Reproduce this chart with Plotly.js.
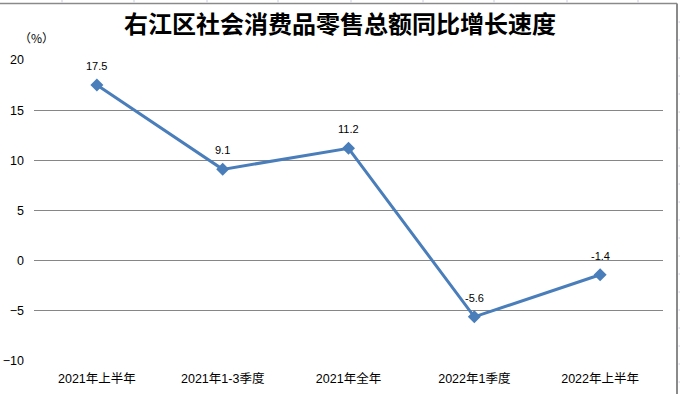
<!DOCTYPE html>
<html><head><meta charset="utf-8">
<script src="https://cdn.plot.ly/plotly-3.0.1.min.js"></script>
<style>html,body{margin:0;padding:0;background:#fff;}#chart{width:680px;height:394px;}</style>
</head><body><div id="chart"></div>
<script>
const categories = ["2021年上半年", "2021年1-3季度", "2021年全年", "2022年1季度", "2022年上半年"];
const growth = [17.5, 9.1, 11.2, -5.6, -1.4];
const labels = growth.map(v => v.toFixed(1));
const yTicks = [-10, -5, 0, 5, 10, 15, 20];
const titleText = "右江区社会消费品零售总额同比增长速度";
const unitText = "（%）";

const W = 680, H = 394, L = 34, R = 17, T = 60, B = 33;
const pw = W - L - R, ph = H - T - B;
const px = x => (x - L) / pw;
const py = y => (H - B - y) / ph;

const shapes = [];
shapes.push({type:'line', xref:'paper', yref:'paper', x0:px(0), x1:px(677), y0:py(3.5), y1:py(3.5), line:{color:'#8a8a8a', width:1.5}});
shapes.push({type:'line', xref:'paper', yref:'paper', x0:px(677), x1:px(677), y0:py(3.5), y1:py(394), line:{color:'#8a8a8a', width:2}});
[62,134,207,278,351,423,494,567,638].forEach(x => shapes.push({type:'line', xref:'paper', yref:'paper', x0:px(x), x1:px(x), y0:py(0), y1:py(2.5), line:{color:'#c8cde0', width:1}}));
[22,40,58,76,94,112,130,148,166,184,202,220,238,256,274,292,310,328,346,364,382].forEach(y => shapes.push({type:'line', xref:'paper', yref:'paper', x0:px(678.5), x1:px(680), y0:py(y), y1:py(y), line:{color:'#c8cde0', width:1}}));

const trace = {
  x: categories, y: growth, type: 'scatter', mode: 'lines+markers',
  line: {color: '#4a7ebb', width: 3},
  marker: {symbol: 'diamond', size: 10, color: '#4a7ebb'},
  cliponaxis: false, hoverinfo: 'none'
};

const valueLabels = categories.map((c, i) => ({
  x: c, y: growth[i], xref: 'x', yref: 'y', text: labels[i], showarrow: false,
  yshift: 19, xanchor: 'center', yanchor: 'middle',
  font: {family: 'Liberation Sans, Arial, sans-serif', size: 11, color: '#000'}
}));

const layout = {
  width: W, height: H,
  margin: {l: L, r: R, t: T, b: B, pad: 0},
  paper_bgcolor: '#fff', plot_bgcolor: '#fff',
  showlegend: false,
  font: {family: 'Liberation Sans, Arial, "Noto Sans CJK SC", sans-serif', size: 12, color: '#000'},
  title: {text: titleText, font: {family: '"Noto Sans CJK SC", sans-serif', size: 24, color: '#000', weight: 'bold'},
          x: 0.5, xref: 'container', xanchor: 'center', y: 1 - 25/H, yref: 'container', yanchor: 'middle'},
  xaxis: {type: 'category', range: [-0.5, categories.length - 0.5], showgrid: false, zeroline: false, showline: false, ticks: '',
          ticklabelstandoff: 8,
          tickfont: {family: 'Liberation Sans, "Noto Sans CJK SC", sans-serif', size: 12.5, color: '#000'}, fixedrange: true},
  yaxis: {range: [-10, 20], tickvals: yTicks, showgrid: true, gridcolor: '#868686', gridwidth: 1,
          zeroline: true, zerolinecolor: '#868686', zerolinewidth: 1, showline: false, ticks: '',
          ticklabelstandoff: 9,
          tickfont: {family: 'Liberation Sans, Arial, sans-serif', size: 12.5, color: '#000'}, fixedrange: true},
  annotations: [{text: unitText, xref: 'paper', yref: 'paper', x: px(36), y: py(38), xanchor: 'center', yanchor: 'middle',
                 showarrow: false, font: {family: '"Noto Sans CJK SC", sans-serif', size: 12, color: '#000'}}].concat(valueLabels),
  shapes: shapes
};

Plotly.newPlot('chart', [trace], layout, {displayModeBar: false, staticPlot: true});
</script></body></html>
